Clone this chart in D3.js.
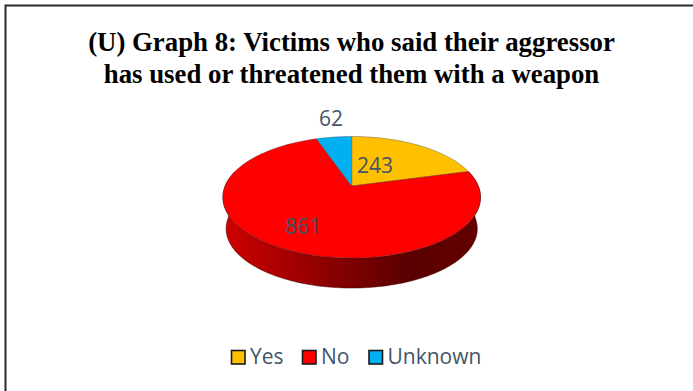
<!DOCTYPE html>
<html>
<head>
<meta charset="utf-8">
<script src="https://cdn.jsdelivr.net/npm/d3@7/dist/d3.min.js"></script>
<style>
html,body{margin:0;padding:0;background:#fff;}
svg{display:block;}
</style>
</head>
<body>
<svg id="chart" width="693" height="391"></svg>
<script>
const categories = ["Yes", "No", "Unknown"];
const seriesValues = [243, 861, 62];
const sliceColors = ["#FFC000", "#FF0000", "#00B0F0"];
const titleLines = ["(U) Graph 8: Victims who said their aggressor", "has used or threatened them with a weapon"];

const svg = d3.select("#chart");

// Frame around the chart: top and left edges run to the page bounds
svg.append("path")
  .attr("d", "M5.5,391V5.5H693")
  .attr("fill", "none").attr("stroke", "#2a2a2a").attr("stroke-width", 2);

svg.selectAll("text.title").data(titleLines).join("text")
  .attr("class", "title")
  .attr("x", 351.5).attr("y", (d, i) => 51 + i * 32)
  .attr("text-anchor", "middle")
  .attr("font-family", "'Liberation Serif'")
  .attr("font-weight", "bold").attr("font-size", 26.8)
  .attr("fill", "#000")
  .text(d => d);

// Perspective projection of a unit disc onto the tilted pie top
const apex = {x: 351.7, y: 186};
const radiusX = 126.6, radiusY = 58.7, tilt = -0.185;
function project(angle, r = 1, dy = 0, shrink = 1) {
  const u = r * Math.sin(angle), v = -r * Math.cos(angle);
  const w = 1 + tilt * v;
  return [apex.x + shrink * radiusX * u / w, apex.y + dy + shrink * radiusY * v / w];
}
const line = d3.line();
const sample = (a0, a1, f) => d3.range(0, 121).map(i => f(a0 + (a1 - a0) * i / 120));

const pie = d3.pie().sort(null).value(d => d);
const arcs = pie(seriesValues);

// Side wall: front half of the rim down to the lower rim
const defs = svg.append("defs");
const wallStops = [[0, "#D00000"], [0.2, "#AE0000"], [0.5, "#7C0000"], [0.72, "#5A0000"], [1, "#640000"]];
const grad = defs.append("linearGradient").attr("id", "wall")
  .attr("gradientUnits", "userSpaceOnUse")
  .attr("x1", 223).attr("x2", 481).attr("y1", 0).attr("y2", 0);
grad.selectAll("stop").data(wallStops).join("stop")
  .attr("offset", d => d[0]).attr("stop-color", d => d[1]);

const depth = 31.8, lowerShrink = 0.975;
const topRim = sample(Math.PI * 0.42, Math.PI * 1.58, a => project(a));
const lowerRim = sample(Math.PI * 1.5, Math.PI * 0.5, a => project(a, 1, depth, lowerShrink));
svg.append("path")
  .attr("d", line(topRim.concat(lowerRim)) + "Z")
  .attr("fill", "url(#wall)").attr("stroke", "#3a0000").attr("stroke-width", 0.5);

// Top face slices
svg.selectAll("path.slice").data(arcs).join("path")
  .attr("class", "slice")
  .attr("d", d => line([[apex.x, apex.y]].concat(sample(d.startAngle, d.endAngle, a => project(a)))) + "Z")
  .attr("fill", (d, i) => sliceColors[i])
  .attr("stroke", "#333").attr("stroke-width", 0.35);

// Data labels
const labelFont = "'Open Sans'";
const labelPos = [[375, 172.5], [303, 233.5], [331, 126]];
svg.selectAll("text.value").data(seriesValues).join("text")
  .attr("class", "value")
  .attr("x", (d, i) => labelPos[i][0]).attr("y", (d, i) => labelPos[i][1])
  .attr("text-anchor", "middle")
  .attr("font-family", labelFont).attr("font-size", 21)
  .attr("fill", "#44546A")
  .text(d => d);

// Legend
const legendX = [231.5, 302.5, 369];
const legend = svg.selectAll("g.legend").data(categories).join("g")
  .attr("class", "legend")
  .attr("transform", (d, i) => `translate(${legendX[i]},350.5)`);
legend.append("rect")
  .attr("width", 13.5).attr("height", 13.5)
  .attr("fill", (d, i) => sliceColors[i])
  .attr("stroke", "#1a1a1a").attr("stroke-width", 1.6);
legend.append("text")
  .attr("x", 18.5).attr("y", 13.5)
  .attr("font-family", labelFont).attr("font-size", 21)
  .attr("fill", "#44546A")
  .text(d => d);
</script>
</body>
</html>
